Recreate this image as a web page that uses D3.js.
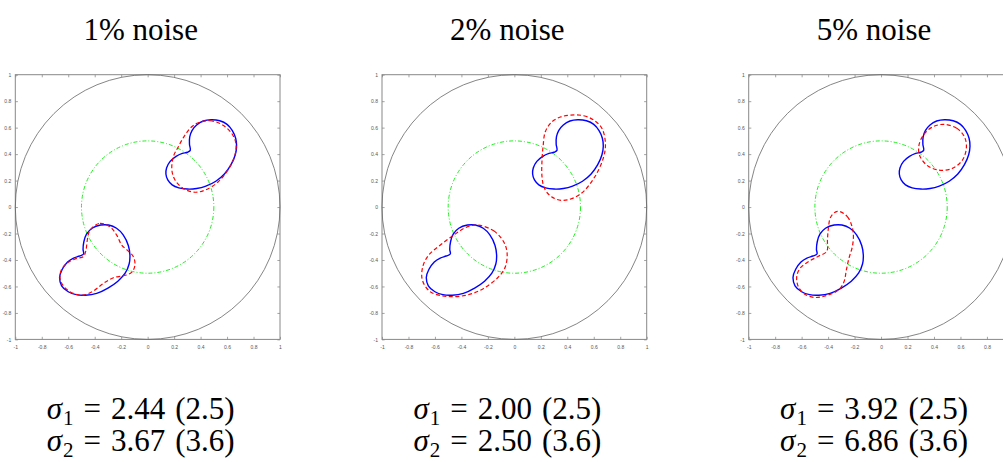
<!DOCTYPE html>
<html>
<head>
<meta charset="utf-8">
<script src="https://cdn.jsdelivr.net/npm/d3@7/dist/d3.min.js"></script>
<style>
  html, body { margin: 0; padding: 0; background: #fff; }
  svg { display: block; }
</style>
</head>
<body>
<svg id="chart" width="1003" height="462"></svg>
<script>
// Panel headings and estimated parameters (true values in brackets)
const panelTitles = ["1% noise", "2% noise", "5% noise"];
const sigma1Est = ["2.44", "2.00", "3.92"];
const sigma2Est = ["3.67", "2.50", "6.86"];
const sigma1True = "2.5";
const sigma2True = "3.6";

// Axis ticks
const tickValues = [-1, -0.8, -0.6, -0.4, -0.2, 0, 0.2, 0.4, 0.6, 0.8, 1];

// Reference circles: domain boundary and measurement circle (radius)
const outerRadius = 1;
const innerRadius = 0.5;

// True inclusions (same in every panel)
const trueUpper = [
  [0.322, 0.428], [0.300, 0.414], [0.262, 0.405], [0.215, 0.383], [0.170, 0.345],
  [0.143, 0.295], [0.138, 0.250], [0.152, 0.205], [0.185, 0.168], [0.235, 0.145],
  [0.300, 0.136], [0.370, 0.140], [0.440, 0.158], [0.515, 0.195], [0.580, 0.250],
  [0.630, 0.320], [0.662, 0.395], [0.672, 0.460], [0.665, 0.520], [0.640, 0.578],
  [0.600, 0.625], [0.545, 0.652], [0.480, 0.660], [0.420, 0.650], [0.370, 0.620],
  [0.335, 0.578], [0.318, 0.530], [0.316, 0.475]
];
const trueLower = [
  [-0.484, -0.355], [-0.515, -0.370], [-0.560, -0.385], [-0.605, -0.415], [-0.645, -0.470],
  [-0.665, -0.530], [-0.650, -0.595], [-0.600, -0.640], [-0.540, -0.662], [-0.470, -0.666],
  [-0.385, -0.652], [-0.300, -0.612], [-0.225, -0.560], [-0.170, -0.500], [-0.140, -0.430],
  [-0.134, -0.363], [-0.146, -0.290], [-0.185, -0.210], [-0.235, -0.160], [-0.295, -0.136],
  [-0.355, -0.136], [-0.420, -0.160], [-0.462, -0.205], [-0.482, -0.262], [-0.488, -0.320]
];

// Reconstructions, 1% noise
const recUpper1 = [
  [0.383, 0.637], [0.471, 0.652], [0.559, 0.625], [0.635, 0.557], [0.667, 0.481],
  [0.660, 0.393], [0.622, 0.305], [0.534, 0.191], [0.433, 0.128], [0.358, 0.112],
  [0.269, 0.141], [0.207, 0.204], [0.183, 0.280], [0.194, 0.380], [0.232, 0.456],
  [0.282, 0.544], [0.333, 0.607]
];
const recLower1 = [
  [-0.411, -0.149], [-0.360, -0.123], [-0.285, -0.149], [-0.234, -0.212], [-0.196, -0.287],
  [-0.146, -0.333], [-0.108, -0.375], [-0.096, -0.438], [-0.121, -0.494], [-0.184, -0.519],
  [-0.259, -0.534], [-0.335, -0.577], [-0.411, -0.635], [-0.486, -0.665], [-0.562, -0.652],
  [-0.632, -0.602], [-0.662, -0.539], [-0.650, -0.471], [-0.600, -0.418], [-0.537, -0.388],
  [-0.486, -0.375], [-0.466, -0.325], [-0.456, -0.249], [-0.441, -0.186]
];

// Reconstructions, 2% noise
const recUpper2 = [
  [0.423, 0.695], [0.524, 0.690], [0.600, 0.657], [0.662, 0.594], [0.688, 0.481],
  [0.675, 0.380], [0.608, 0.229], [0.499, 0.098], [0.373, 0.050], [0.285, 0.075],
  [0.228, 0.140], [0.209, 0.229], [0.209, 0.355], [0.217, 0.456], [0.234, 0.569],
  [0.285, 0.645], [0.348, 0.680]
];
const recLower2 = [
  [-0.282, -0.136], [-0.156, -0.180], [-0.081, -0.262], [-0.055, -0.345], [-0.068, -0.451],
  [-0.118, -0.526], [-0.232, -0.615], [-0.358, -0.665], [-0.509, -0.675], [-0.635, -0.640],
  [-0.695, -0.552], [-0.692, -0.451], [-0.647, -0.363], [-0.559, -0.287], [-0.458, -0.212],
  [-0.370, -0.156]
];

// Reconstructions, 5% noise
const recUpper3 = [
  [0.471, 0.625], [0.572, 0.595], [0.630, 0.531], [0.645, 0.451], [0.615, 0.355],
  [0.534, 0.290], [0.433, 0.280], [0.345, 0.317], [0.290, 0.393], [0.287, 0.469],
  [0.320, 0.544], [0.383, 0.602]
];
const recLower3 = [
  [-0.330, -0.032], [-0.255, -0.072], [-0.212, -0.180], [-0.215, -0.290], [-0.242, -0.385],
  [-0.262, -0.475], [-0.280, -0.565], [-0.322, -0.627], [-0.411, -0.668], [-0.499, -0.683],
  [-0.574, -0.660], [-0.625, -0.602], [-0.637, -0.526], [-0.612, -0.463], [-0.549, -0.413],
  [-0.474, -0.372], [-0.410, -0.335], [-0.405, -0.250], [-0.398, -0.160], [-0.380, -0.075]
];

const reconstructions = [
  [recUpper1, recLower1],
  [recUpper2, recLower2],
  [recUpper3, recLower3]
];

// ---- layout ----
const width = 1003;
const svg = d3.select("#chart");
const plotSize = 264.7;
const plotTop = 74.7;
const panelLefts = [15.3, 382, 748.7];
const tickLen = 2.6;
const fmt = d => String(Math.round(d * 10) / 10);
const serif = "Liberation Serif, Times New Roman, serif";

panelTitles.forEach((title, i) => {
  const left = panelLefts[i];
  const x = d3.scaleLinear().domain([-1, 1]).range([left, left + plotSize]);
  const y = d3.scaleLinear().domain([-1, 1]).range([plotTop + plotSize, plotTop]);
  const g = svg.append("g");

  // axes (ticks pointing inward, box style)
  const axisStyle = sel => {
    sel.selectAll("path").remove();
    sel.selectAll("line").attr("stroke", "#666").attr("stroke-width", 0.6);
    sel.selectAll("text").attr("fill", "#555").attr("font-size", 5)
      .attr("font-family", "Liberation Sans, Arial, sans-serif");
  };
  const bottomLabels = tickValues.filter(v => x(v) + 3 < width);
  g.append("g").attr("transform", `translate(0,${y(-1)})`)
    .call(d3.axisBottom(x).tickValues(tickValues)
      .tickFormat(v => bottomLabels.includes(v) ? fmt(v) : "")
      .tickSizeInner(-tickLen).tickSizeOuter(0).tickPadding(6))
    .call(axisStyle);
  g.append("g").attr("transform", `translate(${x(-1)},0)`)
    .call(d3.axisLeft(y).tickValues(tickValues).tickFormat(fmt).tickSizeInner(-tickLen).tickSizeOuter(0).tickPadding(4))
    .call(axisStyle);
  g.append("g").attr("transform", `translate(0,${y(1)})`)
    .call(d3.axisTop(x).tickValues(tickValues).tickFormat("").tickSizeInner(-tickLen).tickSizeOuter(0))
    .call(axisStyle);
  g.append("g").attr("transform", `translate(${x(1)},0)`)
    .call(d3.axisRight(y).tickValues(tickValues).tickFormat("").tickSizeInner(-tickLen).tickSizeOuter(0))
    .call(axisStyle);

  g.append("rect")
    .attr("x", x(-1)).attr("y", y(1))
    .attr("width", x(1) - x(-1)).attr("height", y(-1) - y(1))
    .attr("fill", "none").attr("stroke", "#888").attr("stroke-width", 1);

  // domain boundary
  g.append("circle")
    .attr("cx", x(0)).attr("cy", y(0)).attr("r", x(outerRadius) - x(0))
    .attr("fill", "none").attr("stroke", "#666").attr("stroke-width", 0.8);

  // measurement circle
  g.append("circle")
    .attr("cx", x(0)).attr("cy", y(0)).attr("r", x(innerRadius) - x(0))
    .attr("fill", "none").attr("stroke", "#22ee22").attr("stroke-width", 1)
    .attr("stroke-dasharray", "4,2,1,2");

  const line = d3.line()
    .x(d => x(d[0])).y(d => y(d[1]))
    .curve(d3.curveCatmullRomClosed.alpha(0.5));

  // true inclusions
  [trueUpper, trueLower].forEach(shape => {
    g.append("path").attr("d", line(shape))
      .attr("fill", "none").attr("stroke", "#0000ff").attr("stroke-width", 1.4);
  });

  // reconstructed inclusions
  reconstructions[i].forEach(shape => {
    g.append("path").attr("d", line(shape))
      .attr("fill", "none").attr("stroke", "#ff0000").attr("stroke-width", 1.2)
      .attr("stroke-dasharray", "4,2.5");
  });

  // title
  const cx = x(0) - 7;
  svg.append("text")
    .attr("x", cx).attr("y", 40)
    .attr("text-anchor", "middle")
    .attr("font-family", serif)
    .attr("font-size", 31)
    .text(title);

  // sigma estimates
  const eq = (row, sub, est, tru) => {
    const t = svg.append("text")
      .attr("x", cx).attr("y", row)
      .attr("text-anchor", "middle")
      .attr("font-family", serif)
      .attr("font-size", 31);
    t.append("tspan").attr("font-style", "italic").text("σ");
    t.append("tspan").attr("font-size", 21).attr("dy", 6).attr("dx", 1).text(sub);
    t.append("tspan").attr("dy", -6).attr("dx", 10).text("=");
    t.append("tspan").attr("dx", 10).text(est);
    t.append("tspan").attr("dx", 10).text(`(${tru})`);
  };
  eq(419, "1", sigma1Est[i], sigma1True);
  eq(451, "2", sigma2Est[i], sigma2True);
});
</script>
</body>
</html>
